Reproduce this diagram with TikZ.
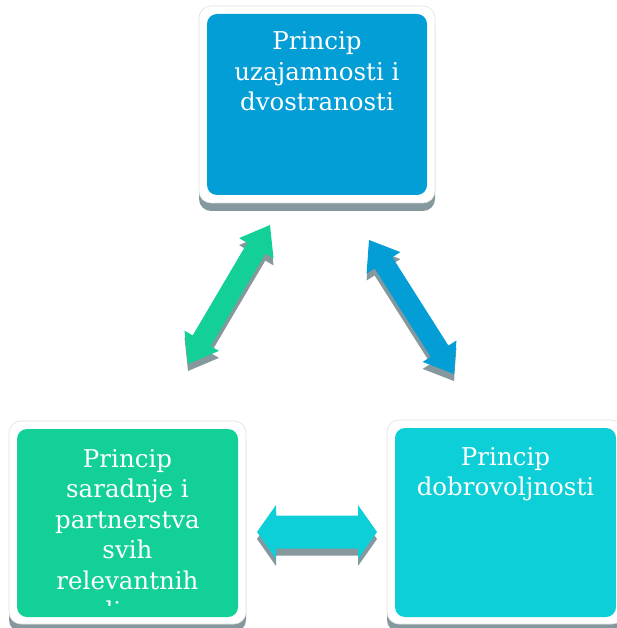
\documentclass[tikz,border=0pt]{standalone}
\usepackage{fontspec}
\setmainfont{DejaVu Serif}
\usetikzlibrary{calc}
\definecolor{cblue}{RGB}{3,158,214}
\definecolor{cgreen}{RGB}{19,208,152}
\definecolor{ccyan}{RGB}{13,207,216}
\definecolor{shad}{RGB}{132,152,157}
% double arrow: #1 colour, #2 tip A, #3 tip B, #4 head length, #5 head half width, #6 shaft half width
\newcommand\dblarr[6]{%
  \path ($(#2)!#4!(#3)$) coordinate (p1) ($(#3)!#4!(#2)$) coordinate (p2);
  \fill[#1] (#2) -- ($(p1)!#5!90:(#3)$) -- ($(p1)!#6!90:(#3)$)
    -- ($(p2)!#6!-90:(#2)$) -- ($(p2)!#5!-90:(#2)$) -- (#3)
    -- ($(p2)!#5!90:(#2)$) -- ($(p2)!#6!90:(#2)$)
    -- ($(p1)!#6!-90:(#3)$) -- ($(p1)!#5!-90:(#3)$) -- cycle;}
\begin{document}
\begin{tikzpicture}[x=1pt,y=-1pt,
  frame/.style={fill=white,draw=black!12,line width=0.6pt,rounded corners=12pt},
  boxshadow/.style={fill=shad,rounded corners=12pt},
  box/.style={rounded corners=10pt,inner sep=0pt},
  lbl/.style={text=white,align=center,font=\fontsize{24.5}{30.5}\selectfont,inner sep=0pt,anchor=base}]
\useasboundingbox (0,0) rectangle (617,628);
% shadows and frames
\fill[boxshadow] (199,14) rectangle (435,211);
\fill[boxshadow] (9,429) rectangle (246,632);
\fill[boxshadow] (387,428) rectangle (624,632);
\draw[frame] (199,6) rectangle (435,203);
\draw[frame] (9,421) rectangle (246,624);
\draw[frame] (387,420) rectangle (624,624);
% coloured boxes
\node[box,fill=cblue,minimum width=220pt,minimum height=181pt] (top) at (317,104.5) {};
\node[box,fill=cgreen,minimum width=221pt,minimum height=188pt] (left) at (127.5,523) {};
\node[box,fill=ccyan,minimum width=221pt,minimum height=189pt] (right) at (505.5,522.5) {};
% texts (anchor base = baseline of last line)
\node[lbl] (toptext) at (317,111) {Princip\\uzajamnosti i\\dvostranosti};
\node[lbl] (righttext) at (505.5,495.5) {Princip\\dobrovoljnosti};
\begin{scope}
\clip (17,429) rectangle (238,605);
\node[lbl] (lefttext) at (127.5,619.5) {Princip\\saradnje i\\partnerstva\\svih\\relevantnih\\lica};
\end{scope}
% arrow tips
\coordinate (ga) at (188,364);
\coordinate (gb) at (270,225);
\coordinate (ba) at (369,240);
\coordinate (bb) at (454,374);
\coordinate (ca) at (257,532);
\coordinate (cb) at (377,532);
\begin{scope}[transform canvas={yshift=-7pt}]
\dblarr{shad}{ga}{gb}{27pt}{20pt}{10.5pt}
\dblarr{shad}{ba}{bb}{27pt}{20pt}{10.5pt}
\dblarr{shad}{ca}{cb}{19pt}{27pt}{16.5pt}
\end{scope}
\dblarr{cgreen}{ga}{gb}{27pt}{20pt}{10.5pt}
\dblarr{cblue}{ba}{bb}{27pt}{20pt}{10.5pt}
\dblarr{ccyan}{ca}{cb}{19pt}{27pt}{16.5pt}
\end{tikzpicture}
\end{document}
